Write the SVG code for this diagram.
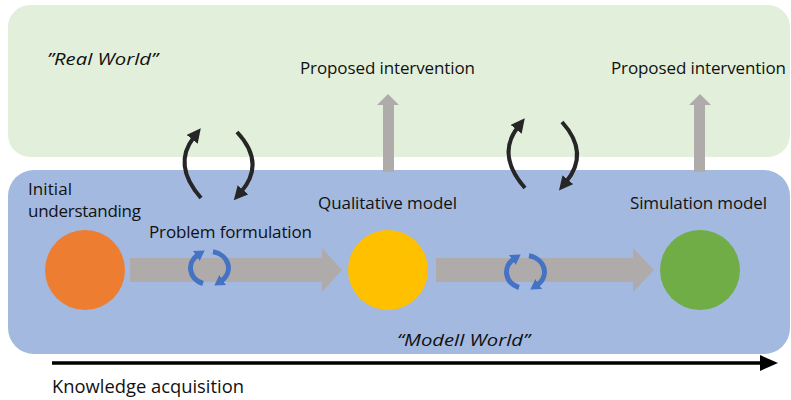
<svg xmlns="http://www.w3.org/2000/svg" width="791" height="400" viewBox="0 0 791 400">
<style>
text{font-family:"Open Sans","Liberation Sans",sans-serif;font-size:17px;fill:#111}
.it{font-style:italic}
.gray{fill:#AFABAB}
.cyc{fill:none;stroke:#4472C4;stroke-width:5}
.blk{fill:none;stroke:#262626;stroke-width:4}
</style>
<defs>
<marker id="mb" markerUnits="userSpaceOnUse" viewBox="0 0 14 14" markerWidth="14" markerHeight="14" refX="3" refY="7" orient="auto">
<path d="M0,0 L14,7 L0,14 z" fill="#262626"/>
</marker>
<marker id="mc" markerUnits="userSpaceOnUse" viewBox="0 0 10 12" markerWidth="10" markerHeight="12" refX="2" refY="6" orient="auto">
<path d="M0,0 L10,6 L0,12 z" fill="#4472C4"/>
</marker>
<marker id="mk" markerUnits="userSpaceOnUse" viewBox="0 0 18 16" markerWidth="18" markerHeight="16" refX="2" refY="8" orient="auto">
<path d="M0,0 L18,8 L0,16 z" fill="#000"/>
</marker>
</defs>
<g id="real-world">
<rect x="8" y="5" width="782" height="152" rx="22" fill="#E2EFDA"/>
<text x="47" y="65" class="it" textLength="111" lengthAdjust="spacingAndGlyphs">”Real World”</text>
</g>
<g id="modell-world">
<rect x="8" y="170" width="782" height="184" rx="26" fill="#A3B9E0"/>
<text x="397" y="346" class="it" textLength="133" lengthAdjust="spacingAndGlyphs">“Modell World”</text>
</g>
<g id="initial-understanding">
<circle cx="85" cy="270" r="40" fill="#ED7D31"/>
<text x="28" y="195" textLength="44">Initial</text>
<text x="28" y="217" textLength="113">understanding</text>
</g>
<g id="qualitative-model">
<circle cx="388" cy="270" r="40" fill="#FFC000"/>
<text x="318" y="209" textLength="139">Qualitative model</text>
</g>
<g id="simulation-model">
<circle cx="700" cy="270" r="40" fill="#70AD47"/>
<text x="630" y="209" textLength="137">Simulation model</text>
</g>
<g id="proposed-intervention-1">
<text x="300" y="74" textLength="175">Proposed intervention</text>
</g>
<g id="proposed-intervention-2">
<text x="611" y="74" textLength="175">Proposed intervention</text>
</g>
<g id="knowledge-acquisition">
<text x="52" y="393" style="font-size:18px" textLength="192" lengthAdjust="spacingAndGlyphs">Knowledge acquisition</text>
</g>
<g id="connectors">
<path class="gray" d="M130,258 H322 V248 L342,270 L322,292 V282 H130 z"/>
<path class="gray" d="M436,258 H633 V248 L654,270 L633,292 V282 H436 z"/>
<path class="gray" d="M383,172 V105 H377 L388,94 L399,105 H394 V172 z"/>
<path class="gray" d="M694,172 V105 H689 L700,94 L711,105 H705 V172 z"/>
<text x="149" y="238" textLength="163">Problem formulation</text>
<path class="cyc" d="M203,283.5 A19,16.5 0 0 1 198,254.9" marker-end="url(#mc)"/>
<path class="cyc" d="M213,251.8 A19,16.5 0 0 1 221,281.1" marker-end="url(#mc)"/>
<path class="cyc" d="M519,287.5 A19,16.5 0 0 1 514,258.9" marker-end="url(#mc)"/>
<path class="cyc" d="M529,255.8 A19,16.5 0 0 1 537,285.1" marker-end="url(#mc)"/>
<path class="blk" d="M201,198 Q172,165 194,137" marker-end="url(#mb)"/>
<path class="blk" d="M237,132 Q266,163 241,192" marker-end="url(#mb)"/>
<path class="blk" d="M525,188 Q496,155 518,127" marker-end="url(#mb)"/>
<path class="blk" d="M562,122 Q590,153 566,182" marker-end="url(#mb)"/>
<path d="M52,363 H762" stroke="#000" stroke-width="3.5" marker-end="url(#mk)"/>
</g>
</svg>
